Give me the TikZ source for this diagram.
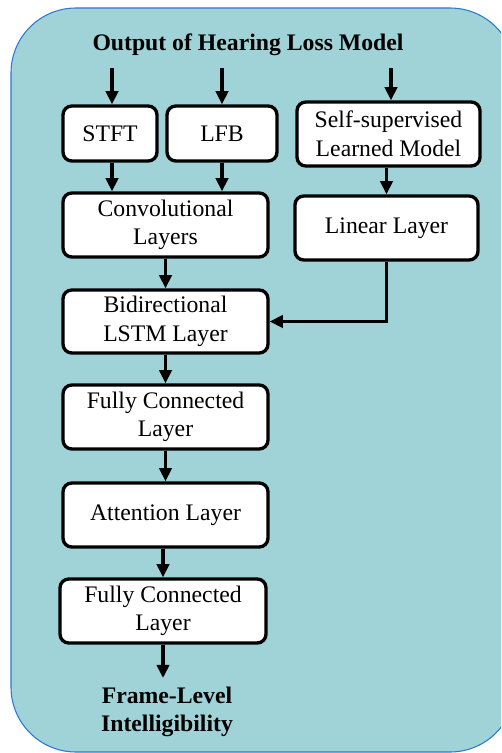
\documentclass[tikz,border=0pt]{standalone}
\usepackage{fontspec}
\setmainfont{Liberation Serif}
\usetikzlibrary{arrows.meta}
\definecolor{bgfill}{RGB}{160,211,216}
\definecolor{bgedge}{RGB}{40,120,210}
\tikzset{
  blk/.style={draw=black, line width=1.9pt, fill=white, rounded corners=5pt, align=center,
    inner sep=0pt, font=\fontsize{13.5}{16.3}\selectfont},
  arr/.style={line width=1.9pt, -{Triangle[length=7.5pt,width=7pt]}},
  lbl/.style={align=center, font=\bfseries\fontsize{13.5}{16.3}\selectfont, inner sep=0pt}
}
\begin{document}
\begin{tikzpicture}[x=0.02cm,y=-0.02cm]
\useasboundingbox (0,0) rectangle (501,753);
\clip (0,0) rectangle (501,753);
\draw[fill=bgfill, draw=bgedge, line width=0.6pt, rounded corners=1.3cm] (11,8) rectangle (515,752);

\node[lbl] (title) at (248,45) {Output of Hearing Loss Model};

\node[blk, minimum width=94*0.02cm, minimum height=55*0.02cm] (stft) at (110,133.5) {STFT};
\node[blk, minimum width=110*0.02cm, minimum height=55*0.02cm] (lfb) at (222,133.5) {LFB};
\node[blk, minimum width=183*0.02cm, minimum height=64*0.02cm] (ssl) at (388.5,134) {Self-supervised\\Learned Model};
\node[blk, minimum width=205*0.02cm, minimum height=64*0.02cm] (conv) at (165.5,225) {Convolutional\\Layers};
\node[blk, minimum width=183*0.02cm, minimum height=64*0.02cm] (lin) at (386.5,228) {Linear Layer};
\node[blk, minimum width=205*0.02cm, minimum height=63*0.02cm] (lstm) at (165.5,321.5) {Bidirectional\\LSTM Layer};
\node[blk, minimum width=205*0.02cm, minimum height=64*0.02cm] (fc1) at (165.5,417) {Fully Connected\\Layer};
\node[blk, minimum width=205*0.02cm, minimum height=64*0.02cm] (att) at (165.5,515) {Attention Layer};
\node[blk, minimum width=206*0.02cm, minimum height=64*0.02cm] (fc2) at (163,611) {Fully Connected\\Layer};
\node[lbl] (out) at (167,712) {Frame-Level\\Intelligibility};

\coordinate (in1) at (112,68);
\coordinate (in2) at (222,68);
\coordinate (in3) at (391,68);
\coordinate (fin) at (163,678);

\draw[arr] (in1) -- (in1 |- stft.north);
\draw[arr] (in2) -- (in2 |- lfb.north);
\draw[arr] (in3) -- (in3 |- ssl.north);
\draw[arr] (stft.south -| in1) -- (in1 |- conv.north);
\draw[arr] (lfb.south -| in2) -- (in2 |- conv.north);
\draw[arr] (ssl.south -| lin) -- (lin.north);
\draw[arr] (conv.south) -- (lstm.north);
\draw[arr, rounded corners=0pt] (lin.south) |- (lstm.east);
\draw[arr] (lstm.south) -- (fc1.north);
\draw[arr] (fc1.south) -- (att.north);
\draw[arr] (att.south -| fc2) -- (fc2.north);
\draw[arr] (fc2.south) -- (fin);
\end{tikzpicture}
\end{document}
